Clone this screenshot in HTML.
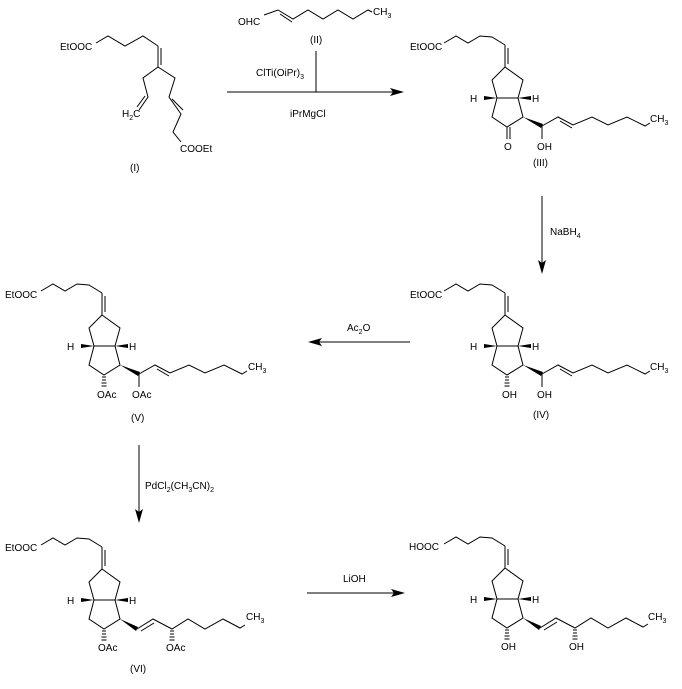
<!DOCTYPE html>
<html><head><meta charset="utf-8"><style>
html,body{margin:0;padding:0;background:#fff;}
svg{display:block;}
text{font-family:"Liberation Sans",sans-serif;font-size:10px;fill:#000;}
.s{font-size:7px;}
</style></head><body>
<svg width="682" height="689" viewBox="0 0 682 689" xmlns="http://www.w3.org/2000/svg">
<defs>
<g id="core" fill="none" stroke="#000" stroke-width="1">
  <line x1="0" y1="0" x2="0" y2="-22"/>
  <line x1="3" y1="-3" x2="3" y2="-19"/>
  <polyline points="0,-22 -13,-30 -25,-31 -37,-24 -49,-31 -61,-24"/>
  <polyline points="0,0 -13,13 -8,31 13,31 18,13 0,0"/>
  <polyline points="-8,31 -13,50 2,60 18,50 13,31"/>
  <polygon points="-8,31 -21,29 -21,33" fill="#000" stroke="none"/>
  <polygon points="13,31 26,29 26,33" fill="#000" stroke="none"/>
</g>
<g id="chainA" fill="none" stroke="#000" stroke-width="1">
  <polygon points="18,50 38,57 36,61" fill="#000" stroke="none"/>
  <polyline points="37,59 53,50 68,58 87,50 103,58 122,50 140,59 145,56"/>
  <line x1="55" y1="54" x2="67" y2="61"/>
  <line x1="37" y1="59" x2="37" y2="72"/>
</g>
<g id="hash" stroke="#000" stroke-width="1">
  <line x1="-2" y1="2" x2="2" y2="2"/><line x1="-2" y1="5" x2="2" y2="5"/>
  <line x1="-2.5" y1="8" x2="2.5" y2="8"/><line x1="-2.5" y1="11" x2="2.5" y2="11"/>
</g>
<g id="chainB" fill="none" stroke="#000" stroke-width="1">
  <polygon points="18,50 36,58 34,62" fill="#000" stroke="none"/>
  <polyline points="35,60 51,50 70,60 86,50 103,60 121,50 138,59 143,56"/>
  <line x1="39" y1="62" x2="52" y2="54"/>
</g>
</defs>

<!-- (I) -->
<g fill="none" stroke="#000" stroke-width="1">
  <polyline points="96,43 108,36 125,46 143,36 158,46"/>
  <line x1="158" y1="46" x2="158" y2="67"/>
  <line x1="161" y1="48" x2="161" y2="65"/>
  <polyline points="158,67 143,78 148,97 139,110"/>
  <line x1="145" y1="96" x2="137" y2="107"/>
  <polyline points="158,67 175,78 169,97 181,114 173,132 181,142"/>
  <line x1="172" y1="99" x2="183" y2="110"/>
</g>
<text x="60" y="50">EtOOC</text>
<text x="122" y="117">H<tspan class="s" dy="3">2</tspan><tspan dy="-3">C</tspan></text>
<text x="180" y="152">COOEt</text>
<text x="130" y="171">(I)</text>

<!-- (II) -->
<g fill="none" stroke="#000" stroke-width="1">
  <polyline points="264,15 278,10 293,19 308,10 323,19 338,10 353,19 368,10 372,12"/>
  <line x1="280" y1="14" x2="292" y2="22"/>
</g>
<text x="238" y="25">OHC</text>
<text x="373" y="15">CH<tspan class="s" dy="3">3</tspan></text>
<text x="310" y="43">(II)</text>

<!-- arrow 1 -->
<g stroke="#000" stroke-width="1" fill="none">
  <line x1="316" y1="51" x2="316" y2="92"/>
  <line x1="227" y1="92" x2="398" y2="92"/>
</g>
<polygon points="404,92 390,88 393,92 390,96" fill="#000"/>
<text x="256" y="76">ClTi(OiPr)<tspan class="s" dy="3">3</tspan></text>
<text x="290" y="117">iPrMgCl</text>

<!-- (III) -->
<use href="#core" x="505" y="67"/>
<use href="#chainA" x="505" y="67"/>
<g stroke="#000" stroke-width="1"><line x1="507" y1="127" x2="507" y2="139"/><line x1="510" y1="127" x2="510" y2="139"/></g>
<text x="410" y="50">EtOOC</text>
<text x="470" y="102">H</text><text x="532" y="102">H</text>
<text x="504" y="150">O</text>
<text x="537" y="150">OH</text>
<text x="650" y="122">CH<tspan class="s" dy="3">3</tspan></text>
<text x="533" y="166">(III)</text>

<!-- NaBH4 -->
<line x1="542" y1="196" x2="542" y2="268" stroke="#000"/>
<polygon points="542,274 538,260 542,263 546,260" fill="#000"/>
<text x="550" y="235">NaBH<tspan class="s" dy="3">4</tspan></text>

<!-- (IV) -->
<use href="#core" x="505" y="315"/>
<use href="#chainA" x="505" y="315"/>
<use href="#hash" x="507" y="375"/>
<text x="410" y="298">EtOOC</text>
<text x="470" y="350">H</text><text x="532" y="350">H</text>
<text x="502" y="398">OH</text>
<text x="537" y="398">OH</text>
<text x="650" y="370">CH<tspan class="s" dy="3">3</tspan></text>
<text x="533" y="418">(IV)</text>

<!-- Ac2O -->
<line x1="314" y1="342" x2="410" y2="342" stroke="#000"/>
<polygon points="308,342 322,338 319,342 322,346" fill="#000"/>
<text x="347" y="331">Ac<tspan class="s" dy="3">2</tspan><tspan dy="-3">O</tspan></text>

<!-- (V) -->
<use href="#core" x="102" y="315"/>
<use href="#chainA" x="102" y="315"/>
<use href="#hash" x="104" y="375"/>
<text x="5" y="298">EtOOC</text>
<text x="67" y="350">H</text><text x="129" y="350">H</text>
<text x="97" y="398">OAc</text>
<text x="132" y="398">OAc</text>
<text x="248" y="370">CH<tspan class="s" dy="3">3</tspan></text>
<text x="131" y="421">(V)</text>

<!-- PdCl2 -->
<line x1="139" y1="445" x2="139" y2="517" stroke="#000"/>
<polygon points="139,523 135,509 139,512 143,509" fill="#000"/>
<text x="145" y="489">PdCl<tspan class="s" dy="3">2</tspan><tspan dy="-3">(CH</tspan><tspan class="s" dy="3">3</tspan><tspan dy="-3">CN)</tspan><tspan class="s" dy="3">2</tspan></text>

<!-- (VI) -->
<use href="#core" x="102" y="569"/>
<use href="#chainB" x="102" y="569"/>
<use href="#hash" x="104" y="629"/>
<use href="#hash" x="172" y="629"/>
<text x="5" y="551">EtOOC</text>
<text x="67" y="604">H</text><text x="129" y="604">H</text>
<text x="98" y="651">OAc</text>
<text x="166" y="651">OAc</text>
<text x="246" y="620">CH<tspan class="s" dy="3">3</tspan></text>
<text x="130" y="672">(VI)</text>

<!-- LiOH -->
<line x1="307" y1="593" x2="399" y2="593" stroke="#000"/>
<polygon points="405,593 391,589 394,593 391,597" fill="#000"/>
<text x="343" y="582">LiOH</text>

<!-- (VII) -->
<use href="#core" x="505" y="568"/>
<use href="#chainB" x="505" y="568"/>
<use href="#hash" x="507" y="628"/>
<use href="#hash" x="575" y="628"/>
<text x="409" y="550">HOOC</text>
<text x="470" y="603">H</text><text x="532" y="603">H</text>
<text x="501" y="650">OH</text>
<text x="569" y="650">OH</text>
<text x="648" y="620">CH<tspan class="s" dy="3">3</tspan></text>
</svg>
</body></html>
